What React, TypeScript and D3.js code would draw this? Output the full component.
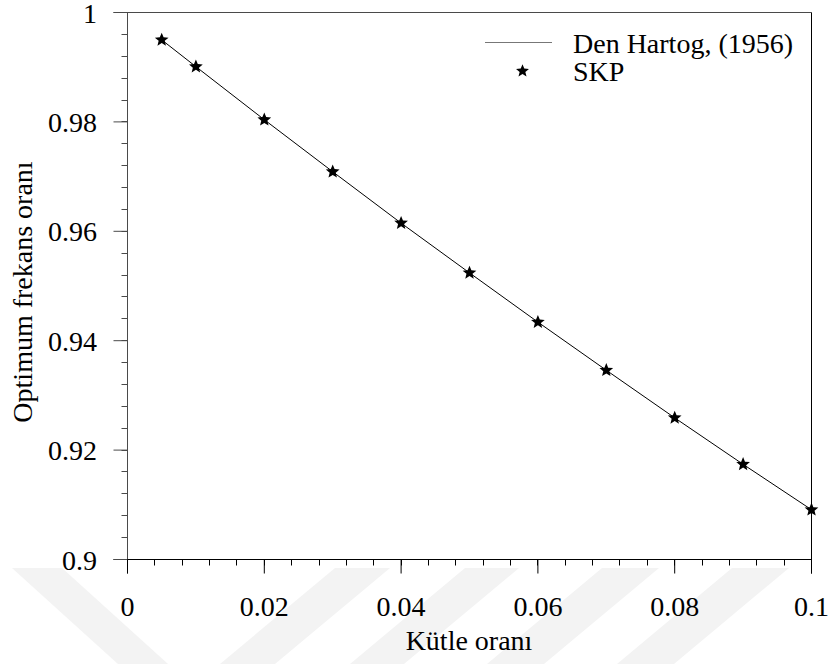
import React from "react";
import * as d3 from "d3";

// Mass ratio values where the optimum frequency ratio is plotted
const massRatios = [0.005, 0.01, 0.02, 0.03, 0.04, 0.05, 0.06, 0.07, 0.08, 0.09, 0.1];
// Den Hartog (1956) closed-form optimum frequency ratio
const denHartogValues = [0.995, 0.9901, 0.9804, 0.9709, 0.9615, 0.9524, 0.9434, 0.9346, 0.9259, 0.9174, 0.9091];
// SKP optimisation results
const skpValues = [0.995, 0.9901, 0.9804, 0.9709, 0.9615, 0.9524, 0.9434, 0.9346, 0.9259, 0.9174, 0.9091];

const xTickValues = [0, 0.02, 0.04, 0.06, 0.08, 0.1];
const xTickLabels = ["0", "0.02", "0.04", "0.06", "0.08", "0.1"];
const yTickValues = [0.9, 0.92, 0.94, 0.96, 0.98, 1];
const yTickLabels = ["0.9", "0.92", "0.94", "0.96", "0.98", "1"];

const seriesNames = ["Den Hartog, (1956)", "SKP"];
const xTitle = "Kütle oranı";
const yTitle = "Optimum frekans oranı";

const W = 832;
const H = 664;
const FONT = "'Liberation Serif', 'Times New Roman', serif";

function starPath(cx: number, cy: number, R: number, r: number) {
  const pts: [number, number][] = [];
  for (let i = 0; i < 10; i++) {
    const a = -Math.PI / 2 + (i * Math.PI) / 5;
    const rad = i % 2 === 0 ? R : r;
    pts.push([cx + rad * Math.cos(a), cy + rad * Math.sin(a)]);
  }
  return "M" + pts.map((p) => p.join(",")).join("L") + "Z";
}

export default function App() {
  const x = d3.scaleLinear().domain([0, 0.1]).range([127.5, 811.5]);
  const y = d3.scaleLinear().domain([0.9, 1]).range([559.5, 12.5]);

  const xMinor = d3.range(0, 0.1 + 1e-9, 0.004);
  const yMinor = d3.range(0.9, 1 + 1e-9, 0.004);

  const line = d3
    .line<number>()
    .x((_, i) => x(massRatios[i]))
    .y((d) => y(d));

  const left = x(0);
  const right = x(0.1);
  const top = y(1);
  const bottom = y(0.9);
  const majorLen = 14;
  const minorLen = 6;
  const axisGray = "#4a4a4a";

  // faint diagonal emblem bands in the lower background
  const bands: [number, number, number, number][] = [
    [12, 62, 118, 168],
    [335, 390, 220, 275],
    [465, 519, 350, 404],
    [602, 659, 487, 544],
    [732, 789, 617, 674],
  ];
  const bandTop = 568;
  const bandBottom = 664;

  return (
    <svg width={W} height={H} style={{ display: "block", position: "absolute", left: 0, top: 0 }}>
      <rect width={W} height={H} fill="#fff" />
      {bands.map((b, i) => (
        <polygon
          key={i}
          points={`${b[0]},${bandTop} ${b[1]},${bandTop} ${b[3]},${bandBottom} ${b[2]},${bandBottom}`}
          fill="#f3f3f3"
        />
      ))}

      {/* frame */}
      <line x1={left - majorLen} x2={right} y1={top} y2={top} stroke={axisGray} />
      <line x1={right} x2={right} y1={top} y2={bottom + majorLen} stroke="#000" />
      <line x1={left - majorLen} x2={right} y1={bottom} y2={bottom} stroke="#000" />
      <line x1={left} x2={left} y1={top} y2={bottom + majorLen} stroke={axisGray} />

      {/* y ticks */}
      {yMinor.map((v, i) => (
        <line key={"ym" + i} x1={left - minorLen} x2={left} y1={Math.round(y(v) - 0.5) + 0.5} y2={Math.round(y(v) - 0.5) + 0.5} stroke={axisGray} />
      ))}
      {yTickValues.map((v, i) => (
        <g key={"y" + i}>
          <line x1={left - majorLen} x2={left} y1={y(v)} y2={y(v)} stroke={axisGray} />
          <text x={97} y={y(v) + 10} textAnchor="end" fontFamily={FONT} fontSize={28} fill="#000">
            {yTickLabels[i]}
          </text>
        </g>
      ))}

      {/* x ticks */}
      {xMinor.map((v, i) => (
        <line key={"xm" + i} x1={Math.round(x(v) - 0.5) + 0.5} x2={Math.round(x(v) - 0.5) + 0.5} y1={bottom} y2={bottom + minorLen} stroke="#000" />
      ))}
      {xTickValues.map((v, i) => (
        <g key={"x" + i}>
          <line x1={x(v)} x2={x(v)} y1={bottom} y2={bottom + majorLen} stroke="#000" />
          <text x={x(v)} y={616} textAnchor="middle" fontFamily={FONT} fontSize={28} fill="#000">
            {xTickLabels[i]}
          </text>
        </g>
      ))}

      {/* axis titles */}
      <text x={469} y={650} textAnchor="middle" fontFamily={FONT} fontSize={28} fill="#000">
        {xTitle}
      </text>
      <text
        transform={`translate(32,292) rotate(-90)`}
        textAnchor="middle"
        fontFamily={FONT}
        fontSize={28}
        fill="#000"
      >
        {yTitle}
      </text>

      {/* Den Hartog line */}
      <path d={line(denHartogValues) || ""} fill="none" stroke="#000" strokeWidth={1} />

      {/* SKP markers */}
      {skpValues.map((v, i) => (
        <path key={"s" + i} d={starPath(x(massRatios[i]), y(v), 7.2, 3.2)} fill="#000" />
      ))}

      {/* legend */}
      <line x1={485} x2={552} y1={42.5} y2={42.5} stroke="#777" />
      <text x={573} y={53} fontFamily={FONT} fontSize={28} fill="#000">
        {seriesNames[0]}
      </text>
      <path d={starPath(522.5, 71, 6.8, 3)} fill="#000" />
      <text x={573} y={81} fontFamily={FONT} fontSize={28} fill="#000">
        {seriesNames[1]}
      </text>
    </svg>
  );
}
